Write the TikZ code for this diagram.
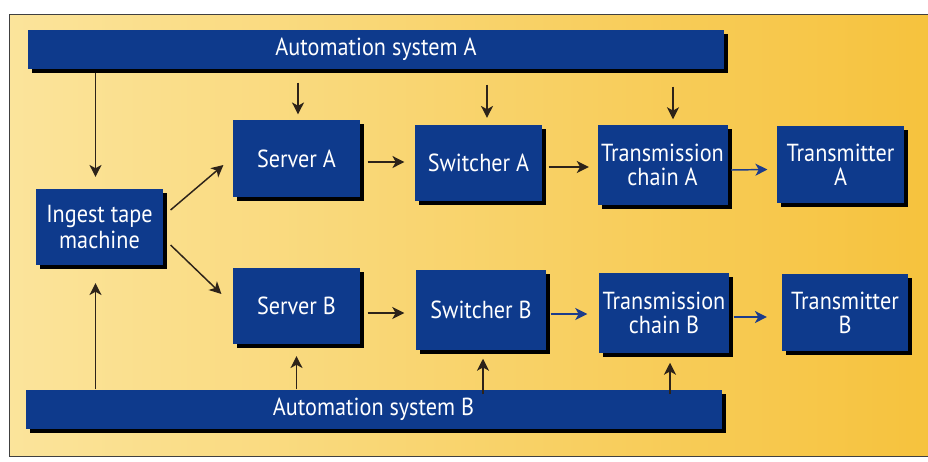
\documentclass[tikz,border=0pt]{standalone}
\usepackage{fontspec}
\setmainfont[FakeStretch=0.9]{PT Sans}
\usepackage{tikz}
\usetikzlibrary{arrows.meta,positioning,calc,shadows}
\definecolor{navy}{RGB}{14,58,140}
\definecolor{arrowdark}{RGB}{45,35,25}
\definecolor{arrowblue}{RGB}{28,60,140}
\definecolor{paleyellow}{RGB}{251,228,155}
\definecolor{cream}{RGB}{255,245,208}
\definecolor{gold}{RGB}{246,194,60}

\begin{document}
\begin{tikzpicture}[x=0.75pt, y=-0.75pt, ->, >={Stealth[length=9pt,width=9pt,inset=2.5pt]}, line width=1.1pt]
\tikzstyle{block}=[rectangle, fill=navy, text=white, align=center, inner sep=0pt,
  font=\fontsize{18.5}{18}\selectfont, minimum width=95pt, minimum height=57.5pt,
  drop shadow={shadow xshift=3pt, shadow yshift=-3pt, fill=black, opacity=1}]
\tikzstyle{wide}=[block, minimum width=97.5pt, minimum height=60pt]
\tikzstyle{bar}=[block, minimum width=522pt, minimum height=29.25pt]
\tikzstyle{darklink}=[draw=arrowdark]
\tikzstyle{bluelink}=[draw=arrowblue]
\useasboundingbox (0,0) rectangle (928,461);
\clip (0,0) rectangle (928,461);
% background panel
\begin{scope}[-]
\shade[left color=paleyellow, middle color=cream, right color=gold] (9,14) rectangle (940,456);
\draw[line width=0.6pt, black!75] (9,14) rectangle (940,456);
\end{scope}
% blocks
\node[bar]   (autoA)   at (376,49.5)   {Automation system A};
\node[bar]   (autoB)   at (373.5,409.5) {Automation system B};
\node[block] (ingest)  at (99.5,227)   {Ingest tape\\[1pt]machine};
\node[block] (serverA) at (296.5,158.5) {Server A};
\node[block] (serverB) at (296.5,306)  {Server B};
\node[block] (switchA) at (478.5,163)  {Switcher A};
\node[wide]  (switchB) at (481,310)    {Switcher B};
\node[wide]  (chainA)  at (662.5,165)  {Transmission\\chain A};
\node[wide]  (chainB)  at (664,313)    {Transmission\\chain B};
\node[block] (txA)     at (840.5,164.5) {Transmitter\\A};
\node[block] (txB)     at (845,312.5)  {Transmitter\\B};
% control lines
\draw[darklink] ($(autoA.south -| ingest.north)+(-4,3)$) -- ($(ingest.north)+(-4,-11)$);
\draw[darklink] ($(autoA.south -| serverA.north)+(1.5,13)$) -- ($(serverA.north)+(1.5,-5)$);
\draw[darklink] ($(autoA.south -| switchA.north)+(8.5,15)$) -- ($(switchA.north)+(8.5,-6)$);
\draw[darklink] ($(autoA.south -| chainA.north)+(10.5,17)$) -- ($(chainA.north)+(10.5,-5)$);
\draw[darklink] ($(autoB.north -| ingest.south)+(-4,0)$) -- ($(ingest.south)+(-4,17)$);
\draw[darklink] (autoB.north -| serverB.south) -- ($(serverB.south)+(0,11)$);
\draw[darklink] ($(autoB.north -| switchB.south)+(2,5)$) -- ($(switchB.south)+(2,8)$);
\draw[darklink] ($(autoB.north -| chainB.south)+(6,5)$) -- ($(chainB.south)+(6,9)$);
% signal path
\draw[darklink] ($(ingest.east)+(7,-17)$) -- ($(serverA.west)+(-9,6.5)$);
\draw[darklink] ($(ingest.east)+(7,18)$) -- ($(serverB.west)+(-11,-12)$);
\draw[darklink] ($(serverA.east)+(7,3.5)$) -- ($(switchA.west)+(-10,-1)$);
\draw[darklink] ($(switchA.east)+(6,4)$) -- ($(chainA.west)+(-8,2)$);
\draw[bluelink] ($(chainA.east)+(3,5)$) -- ($(txA.west)+(-9,5)$);
\draw[darklink] ($(serverB.east)+(7,7)$) -- ($(switchB.west)+(-11,3)$);
\draw[bluelink] ($(switchB.east)+(4,4)$) -- ($(chainB.west)+(-11,1)$);
\draw[bluelink] ($(chainB.east)+(4,4)$) -- ($(txB.west)+(-14,4.5)$);
\end{tikzpicture}
\end{document}
